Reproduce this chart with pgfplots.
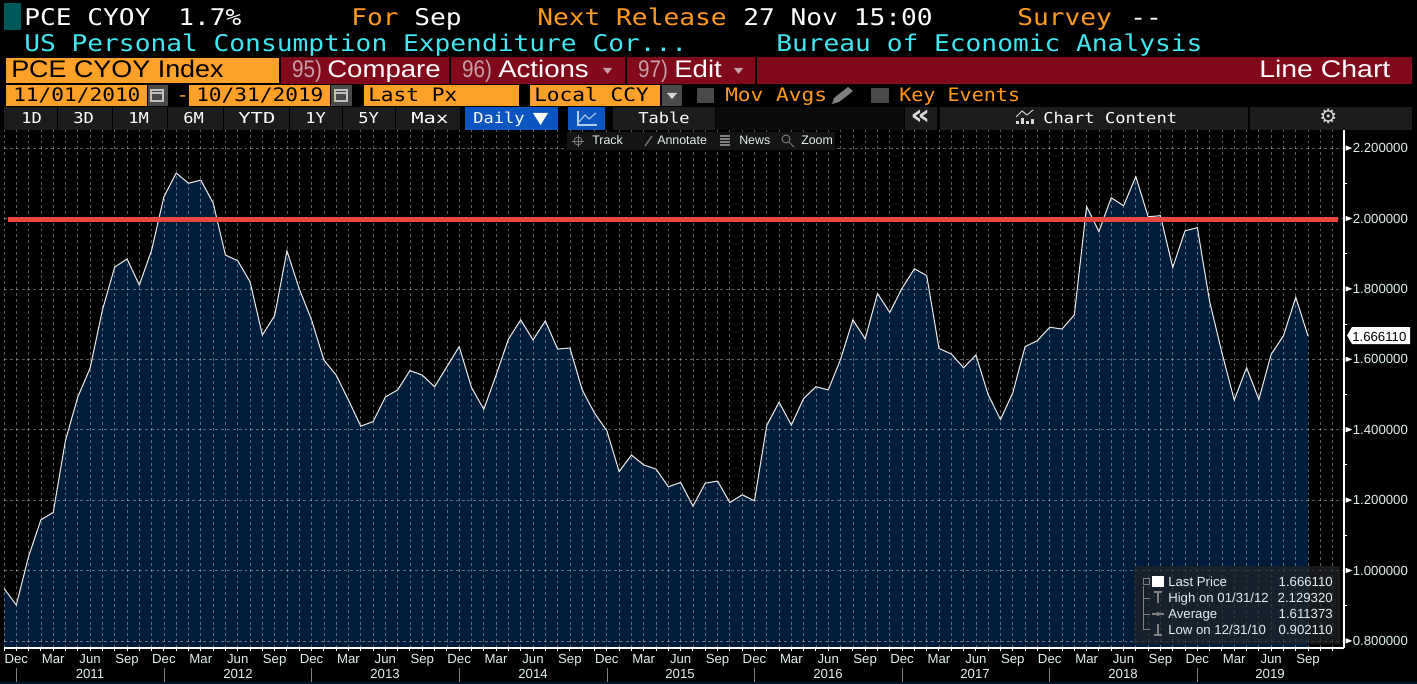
\documentclass[border=0pt]{standalone}
\usepackage{pgfplots}
\usepackage{pgfplotstable}
\usepackage{fontspec}
\pgfplotsset{compat=1.18}
\setmainfont{Liberation Sans}
\newfontfamily\mono[FakeStretch=1.14]{DejaVu Sans Mono}
\newfontfamily\wide[FakeStretch=1.15]{Liberation Sans}
\newfontfamily\dejavu{DejaVu Sans}
\newcommand\fh{\mono\fontsize{17.25}{20}\selectfont}
\newcommand\fw{\wide\fontsize{18}{20}\selectfont}
\newcommand\fm{\mono\fontsize{13.9}{16}\selectfont}
\newcommand\fs{\mono\fontsize{11.25}{13}\selectfont}
\newcommand\ft{\fontsize{9.9}{11}\selectfont}
\definecolor{bbor}{HTML}{FFA028}
\definecolor{bbot}{HTML}{FF9A1A}
\definecolor{bbcy}{HTML}{40E8F4}
\definecolor{bbred}{HTML}{80091A}
\definecolor{bbpk}{HTML}{C8A0A8}
\definecolor{bbbtn}{HTML}{1C1C1C}
\definecolor{bbblue}{HTML}{0A55C0}
\definecolor{bbgr}{HTML}{4A4A4A}
\definecolor{bbnavy}{HTML}{011C3A}
\definecolor{bbtick}{HTML}{E2F0F0}
\definecolor{bbline}{HTML}{E4E4E4}
\definecolor{bbrl}{HTML}{E8483E}
\newcommand\T[5][]{\node[anchor=base west,inner sep=0pt,text=#2,font=#3,#1] at (#4) {#5};}
\newcommand\R[3]{\fill[#1] (#2) rectangle (#3);}
\pgfplotstableread{
i v
-1 0.949
0 0.902
1 1.040
2 1.144
3 1.165
4 1.370
5 1.493
6 1.575
7 1.740
8 1.862
9 1.885
10 1.811
11 1.910
12 2.062
13 2.129
14 2.100
15 2.109
16 2.044
17 1.896
18 1.880
19 1.820
20 1.669
21 1.724
22 1.908
23 1.800
24 1.712
25 1.598
26 1.555
27 1.484
28 1.410
29 1.423
30 1.493
31 1.513
32 1.568
33 1.555
34 1.522
35 1.579
36 1.636
37 1.520
38 1.458
39 1.555
40 1.657
41 1.712
42 1.655
43 1.709
44 1.629
45 1.632
46 1.513
47 1.447
48 1.397
49 1.281
50 1.328
51 1.300
52 1.288
53 1.238
54 1.250
55 1.183
56 1.248
57 1.254
58 1.193
59 1.215
60 1.198
61 1.412
62 1.478
63 1.413
64 1.489
65 1.522
66 1.513
67 1.600
68 1.712
69 1.658
70 1.787
71 1.733
72 1.802
73 1.857
74 1.838
75 1.631
76 1.615
77 1.576
78 1.612
79 1.499
80 1.429
81 1.505
82 1.636
83 1.653
84 1.691
85 1.686
86 1.726
87 2.034
88 1.963
89 2.059
90 2.036
91 2.119
92 2.005
93 2.008
94 1.861
95 1.965
96 1.974
97 1.764
98 1.618
99 1.484
100 1.576
101 1.486
102 1.614
103 1.667
104 1.776
105 1.666
}\pce
\begin{document}
\begin{tikzpicture}[x=0.75pt,y=-0.75pt]
\useasboundingbox (0,0) rectangle (1417,684);
\fill[black] (0,0) rectangle (1417,684);
\coordinate (O) at (4,648);
\begin{axis}[
  at={(O)},anchor=south west,
  scale only axis,width=1005pt,height=388.5pt,
  xmin=-1,xmax=107.92,ymin=0.7798,ymax=2.2514,
  clip=false,axis on top,
  axis x line=bottom,axis y line=right,
  axis line style={-,white,line width=1.1pt},
  tick align=outside,
  xtick={0,3,...,105},
  xticklabels={Dec,Mar,Jun,Sep,Dec,Mar,Jun,Sep,Dec,Mar,Jun,Sep,Dec,Mar,Jun,Sep,Dec,Mar,Jun,Sep,Dec,Mar,Jun,Sep,Dec,Mar,Jun,Sep,Dec,Mar,Jun,Sep,Dec,Mar,Jun,Sep},
  minor xtick={-1,0,...,107},
  ytick={0.8,1,1.2,1.4,1.6,1.8,2,2.2},
  minor ytick={0.9,1.1,1.3,1.5,1.7,1.9,2.1},
  major tick length=2.6pt,minor tick length=2.6pt,
  every tick/.style={white,line width=0.75pt},
  major y tick style={draw=none},
  xminorgrids=true,xmajorgrids=false,ymajorgrids=true,yminorgrids=false,
  minor x grid style={white,opacity=0.36,line width=0.55pt,dash pattern=on 2.2pt off 2.2pt},
  major y grid style={white,opacity=0.36,line width=0.55pt,dash pattern=on 2.2pt off 2.2pt},
  yticklabel style={/pgf/number format/fixed,/pgf/number format/fixed zerofill,/pgf/number format/precision=6,/pgf/number format/assume math mode=true,anchor=west,xshift=0.5pt,text=bbtick,font=\ft},
  xticklabel style={text=bbtick,font=\ft,anchor=base,yshift=-8.9pt},
  xlabel={},ylabel={},
]
\addplot[fill=bbnavy,draw=none] table[x=i,y=v]{\pce} \closedcycle;
\pgfplotsinvokeforeach{0.8,1,1.2,1.4,1.6,1.8,2,2.2}{
  \fill[white] (axis cs:107.92,#1) ++(1.2pt,-2pt) -- ++(5pt,2pt) -- ++(-5pt,2pt) -- cycle;
}
\end{axis}
\begin{axis}[
  at={(O)},anchor=south west,
  scale only axis,width=1005pt,height=388.5pt,
  xmin=-1,xmax=107.92,ymin=0.7798,ymax=2.2514,
  clip=false,hide axis,
]
\addplot[bbline,line width=0.8pt] table[x=i,y=v]{\pce};
\addplot[bbrl,line width=3.5pt] coordinates {(-0.65,1.997) (107.43,1.997)};
\end{axis}
% header rows
\R{teal!70!black}{4,3}{21,30}
\T{white}{\fh}{24,26}{PCE CYOY}
\T{white}{\fh}{178,26}{1.7\%}
\T{bbot}{\fh}{351,26}{For}
\T{white}{\fh}{414,26}{Sep}
\T{bbot}{\fh}{537,26}{Next Release}
\T{white}{\fh}{743,26}{27 Nov 15:00}
\T{bbot}{\fh}{1017,26}{Survey}
\T{white}{\fh}{1130,26}{--}
\T{bbcy}{\fh}{24,52}{US Personal Consumption Expenditure Cor...}
\T{bbcy}{\fh}{776,52}{Bureau of Economic Analysis}
% row 3
\R{bbor}{6,58}{279,83}
\R{bbred}{281,57}{449,84}
\R{bbred}{451,57}{625,84}
\R{bbred}{627,57}{755,84}
\R{bbred}{757,57}{1412,84}
\T[xscale=0.975]{black}{\fw}{11,78}{PCE CYOY Index}
\T[xscale=0.75]{bbpk}{\fw}{292,78}{95)}
\T{white}{\fw}{327,78}{Compare}
\T[xscale=0.75]{bbpk}{\fw}{462,78}{96)}
\T{white}{\fw}{498,78}{Actions}
\T[xscale=0.75]{bbpk}{\fw}{638,78}{97)}
\T{white}{\fw}{674,78}{Edit}
\fill[bbpk] (603,68) -- (612,68) -- (607.5,74) -- cycle;
\fill[bbpk] (734,68) -- (743,68) -- (738.5,74) -- cycle;
\T[xscale=1.03]{white}{\fw}{1259,78}{Line Chart}
% row 4
\R{bbor}{6,85}{147,106}
\R{bbor}{189,85}{330,106}
\R{bbor}{364,85}{519,106}
\R{bbor}{530,85}{660,106}
\R{bbgr}{148,85}{168,106}
\R{bbgr}{331,85}{352,106}
\R{bbgr}{662,85}{682,106}
\foreach \xx in {151,335}{
  \draw[white!75!black,line width=0.8pt] (\xx,90) rectangle (\xx+12,101);
  \draw[white!75!black,line width=0.8pt] (\xx,93) -- (\xx+12,93);
}
\fill[white!85!black] (667,93) -- (677,93) -- (672,99) -- cycle;
\T{black}{\fm}{13,102}{11/01/2010}
\T{bbor}{\fm}{176,102}{-}
\T{black}{\fm}{196,102}{10/31/2019}
\T{black}{\fm}{368,102}{Last Px}
\T{black}{\fm}{534,102}{Local CCY}
\R{bbgr}{697,88}{714,103}
\T{bbot}{\fm}{725,102}{Mov Avgs}
\fill[gray] (832,104) -- (834,98) -- (848,87) -- (853,91) -- (839,102) -- cycle;
\R{bbgr}{871,88}{889,103}
\T[xscale=0.95]{bbot}{\fm}{899,102}{Key Events}
% row 5
\foreach \a/\b in {4/57,58/112,113/167,168/223,224/289,290/342,343/395,396/460,613/715,905/937,940/1248,1250/1412}{
  \fill[bbbtn] (\a,107) rectangle (\b,130);
}
\fill[black!60!bbbtn] (716,107) rectangle (904,130);
\R{bbblue}{465,107}{558,130}
\R{bbblue}{568,107}{605,130}
\foreach \tx/\s in {21/1D,73/3D,128/1M,183/6M,305/1Y,358/5Y,473/Daily,638/Table,1043/Chart Content}{
  \T{white}{\fs}{\tx,124}{\s}
}
\T[xscale=1.2]{white}{\fs}{238,124}{YTD}
\T[xscale=1.2]{white}{\fs}{411,124}{Max}
\fill[white] (533,113) -- (548,113) -- (540.5,125) -- cycle;
\draw[white!70!bbblue,line width=0.8pt] (578,111) -- (578,125) -- (597,125);
\draw[white!70!bbblue,line width=0.8pt] (579,122) -- (585,115) -- (589,119) -- (596,113);
\T[xscale=1.1]{white!85!black}{\fontsize{21}{24}\selectfont\bfseries\dejavu}{910,125}{«}
\foreach \bx/\bh in {1016/3,1021/6,1026/3,1031/5}{ \fill[white!85!black] (\bx,124) rectangle (\bx+3,124-\bh); }
\draw[white!85!black,line width=0.7pt] (1016,117) -- (1022,111) -- (1027,115) -- (1033,110);
\T{white!85!black}{\fontsize{15}{18}\selectfont\dejavu}{1319,124}{⚙}
% toolbar
\fill[black!92!white] (567,132) rectangle (835,150);
\T{bbtick}{\fontsize{9.3}{11}\selectfont}{592,145}{Track}
\T{bbtick}{\fontsize{9.3}{11}\selectfont}{657,145}{Annotate}
\T{bbtick}{\fontsize{9.3}{11}\selectfont}{739,145}{News}
\T{bbtick}{\fontsize{9.3}{11}\selectfont}{801,145}{Zoom}
\draw[gray,line width=0.6pt] (578,141) circle[radius=4];
\draw[gray,line width=0.6pt] (572,141) -- (584,141) (578,135) -- (578,147);
\draw[gray,line width=0.9pt] (645,146) -- (652,136);
\foreach \yy in {136,139,142,145}{ \draw[gray,line width=0.9pt] (720,\yy) -- (730,\yy); }
\draw[gray,line width=0.7pt] (786,139) circle[radius=4];
\draw[gray,line width=0.7pt] (789,142) -- (794,147);
% year labels
\foreach \yx/\yl in {90/2011,238/2012,385/2013,533/2014,680/2015,828/2016,975/2017,1123/2018,1270/2019}{
  \node[inner sep=0pt,anchor=base,text=bbtick,font=\ft] at (\yx,678) {\yl};
}
\foreach \sx in {16,164,311,459,607,754,902,1049,1197}{
  \draw[gray,line width=0.75pt] (\sx,668) -- (\sx,682);
}
\fill[bbnavy!70!black] (0,682) rectangle (1417,684);
% last price tag
\fill[white] (1347,335.5) -- (1352,327) -- (1410,327) -- (1410,344) -- (1352,344) -- cycle;
\node[anchor=base west,inner sep=0pt,text=black!80!bbnavy,font=\ft] at (1352,341) {1.666110};
% legend
\definecolor{bblg}{HTML}{202428}
\fill[bblg,opacity=0.72] (1134,566) rectangle (1340,644);
\fill[white] (1152,576) rectangle (1164,587);
\draw[gray,line width=0.7pt] (1143,586) -- (1143,629) -- (1150,629) (1143,598) -- (1150,598) (1143,614) -- (1150,614);
\draw[gray,line width=0.7pt] (1143.5,578) rectangle (1149,584);
\draw[gray,line width=0.9pt] (1154,592) -- (1162,592) (1158,592) -- (1158,603);
\draw[gray,line width=0.9pt] (1152,614) -- (1164,614); \fill[gray] (1158,614) circle[radius=2];
\draw[gray,line width=0.9pt] (1158,624) -- (1158,635) (1154,635) -- (1162,635);
\foreach \yy/\ta/\tb in {586.5/Last Price/1.666110,602.5/High on 01\slash 31\slash 12/2.129320,618.5/Average/1.611373,634.5/Low on 12\slash 31\slash 10/0.902110}{
  \node[anchor=base west,inner sep=0pt,text=bbtick,font=\ft] at (1168,\yy) {\ta};
  \node[anchor=base east,inner sep=0pt,text=bbtick,font=\ft] at (1333,\yy) {\tb};
}
\end{tikzpicture}
\end{document}
